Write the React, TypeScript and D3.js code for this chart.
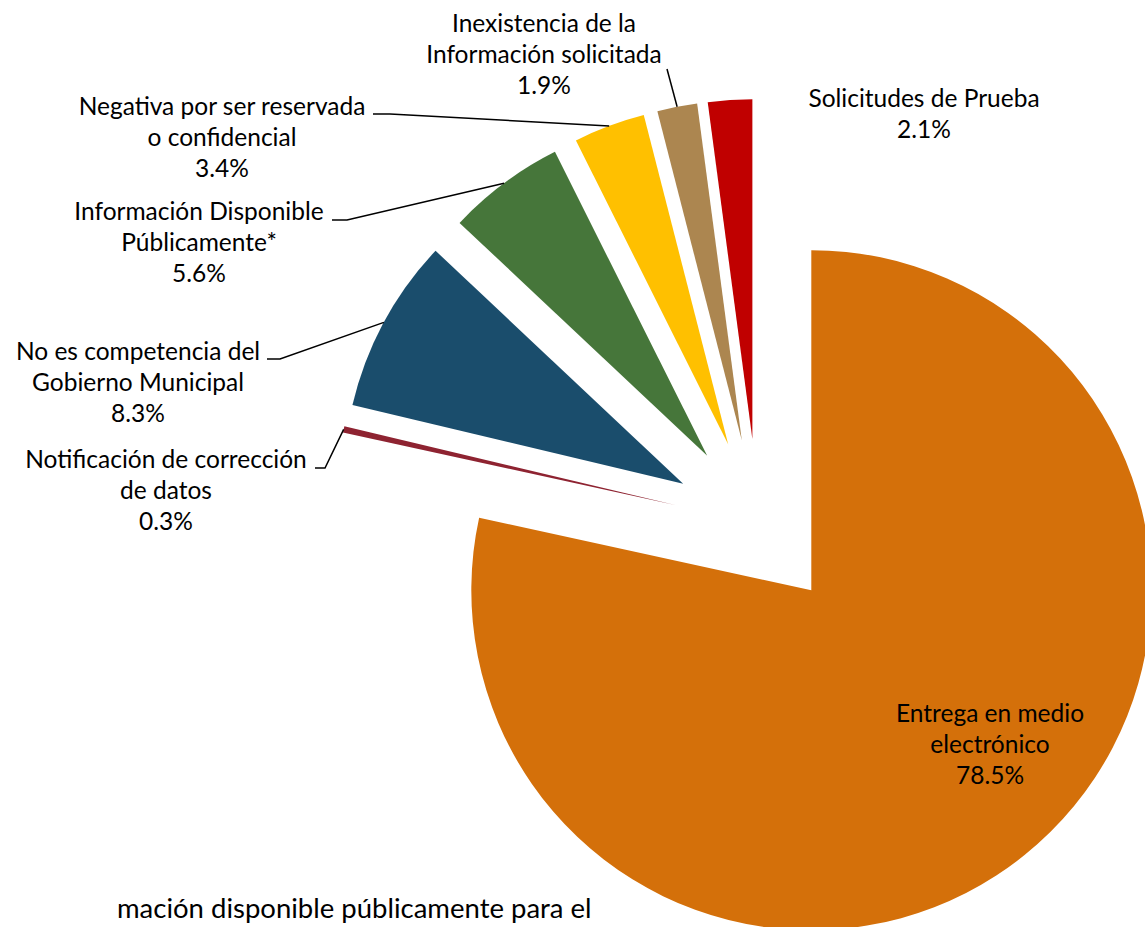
import * as d3 from "d3";

const categories = [
  "Entrega en medio electrónico",
  "Notificación de corrección de datos",
  "No es competencia del Gobierno Municipal",
  "Información Disponible Públicamente*",
  "Negativa por ser reservada o confidencial",
  "Inexistencia de la Información solicitada",
  "Solicitudes de Prueba"
];
const values = [78.5, 0.3, 8.3, 5.6, 3.4, 1.9, 2.1];
const labelLines = [
  ["Entrega en medio", "electrónico"],
  ["Notificación de corrección", "de datos"],
  ["No es competencia del", "Gobierno Municipal"],
  ["Información Disponible", "Públicamente*"],
  ["Negativa por ser reservada", "o confidencial"],
  ["Inexistencia de la", "Información solicitada"],
  ["Solicitudes de Prueba"]
];
const footText = "mación disponible públicamente para el";

const colors = [
  "#D4700A",
  "#8E2331",
  "#1A4D6C",
  "#46763A",
  "#FFC000",
  "#AC8650",
  "#C00000"
];

const width = 1145;
const height = 927;
const cx = 758;
const cy = 524;
const radius = 340;
const explode = 85;
const fontSize = 24.5;
const lineGap = 31;

// label anchor (center x, first baseline) and leader start, placed by hand like in the original
const labelPos: { x: number; y: number; leader?: [number, number][] }[] = [
  { x: 990, y: 722 },
  { x: 166, y: 468, leader: [[315, 468], [325, 468]] },
  { x: 138, y: 360, leader: [[267, 359], [280, 359]] },
  { x: 199, y: 220, leader: [[332, 220], [347, 220]] },
  { x: 222, y: 115, leader: [[373, 114], [390, 114]] },
  { x: 544, y: 32, leader: [[667, 69]] },
  { x: 924, y: 107 }
];

export default function App() {
  const pie = d3
    .pie<number>()
    .sort(null)
    .value((d) => d)
    .startAngle(0)
    .endAngle(Math.PI * 2);
  const arcs = pie(values);
  const arc = d3.arc<d3.PieArcDatum<number>>().innerRadius(0).outerRadius(radius);
  const fmt = d3.format(".1f");

  const mid = (a: d3.PieArcDatum<number>) => (a.startAngle + a.endAngle) / 2;

  return (
    <svg
      width={width}
      height={height}
      style={{ position: "absolute", left: 0, top: 0, display: "block" }}
      fontFamily="Lato, 'Noto Sans', sans-serif"
    >
      <rect width={width} height={height} fill="#fff" />
      <g transform={`translate(${cx},${cy})`}>
        {arcs.map((a, i) => {
          const m = mid(a);
          const dx = Math.sin(m) * explode;
          const dy = -Math.cos(m) * explode;
          return (
            <path
              key={categories[i]}
              d={arc(a) ?? ""}
              fill={colors[i]}
              transform={`translate(${dx},${dy})`}
            />
          );
        })}
      </g>
      {arcs.map((a, i) => {
        const p = labelPos[i];
        if (!p.leader) return null;
        const m = mid(a);
        const end: [number, number] = [
          cx + Math.sin(m) * (radius + explode),
          cy - Math.cos(m) * (radius + explode)
        ];
        const pts = [...p.leader, end];
        return (
          <path
            key={`leader-${i}`}
            d={d3.line()(pts) ?? ""}
            fill="none"
            stroke="#000"
            strokeWidth={1.5}
          />
        );
      })}
      {arcs.map((a, i) => {
        const p = labelPos[i];
        const lines = [...labelLines[i], `${fmt(values[i])}%`];
        return (
          <text
            key={`label-${i}`}
            x={p.x}
            y={p.y}
            textAnchor="middle"
            fontSize={fontSize}
            fill="#000"
          >
            {lines.map((l, j) => (
              <tspan key={j} x={p.x} y={p.y + j * lineGap}>
                {l}
              </tspan>
            ))}
          </text>
        );
      })}
      <text x={117} y={918} fontSize={27.5} fill="#000">
        {footText}
      </text>
    </svg>
  );
}
